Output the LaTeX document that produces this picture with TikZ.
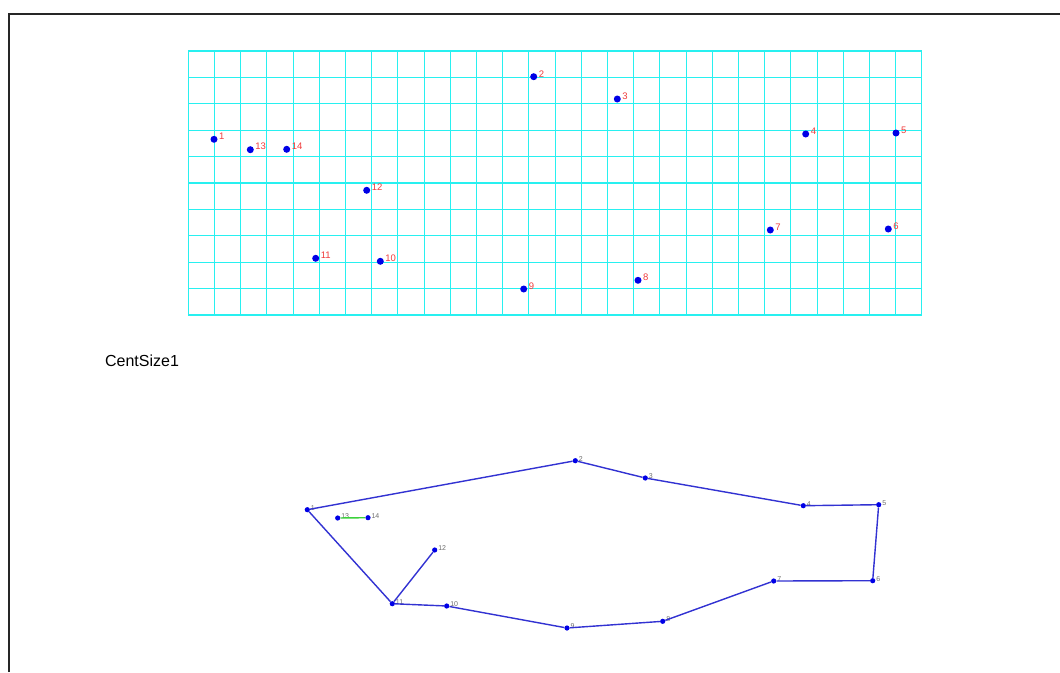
\documentclass[tikz,border=0pt]{standalone}
\usepackage{fontspec}
\setmainfont{Liberation Sans}
\definecolor{gridcyan}{RGB}{40,240,240}
\definecolor{dotblue}{RGB}{0,0,230}
\definecolor{labred}{RGB}{240,60,60}
\definecolor{lineblue}{RGB}{50,50,210}
\definecolor{linegreen}{RGB}{60,210,60}
\definecolor{labgray}{RGB}{110,110,110}
\begin{document}
\begin{tikzpicture}[x=1pt,y=-1pt,
 gridline/.style={draw=gridcyan, line width=1.1pt},
 tdot/.style={circle, fill=dotblue, inner sep=0pt, minimum size=7pt},
 tlab/.style={text=labred, font=\fontsize{9.5}{10}\selectfont, inner sep=1.2pt, yshift=3pt},
 bdot/.style={circle, fill=dotblue, inner sep=0pt, minimum size=5.2pt},
 blab/.style={text=labgray, font=\fontsize{7}{8}\selectfont, inner sep=0.6pt, yshift=2pt},
 edgeline/.style={draw=lineblue, line width=1.4pt},
 greenline/.style={draw=linegreen, line width=1.4pt},
 frameline/.style={draw=black!85, line width=1.2pt},
 title/.style={font=\fontsize{16}{18}\selectfont, text=black}
]
\useasboundingbox (0,0) rectangle (1060,672);
\fill[white] (0,0) rectangle (1060,672);
\draw[frameline] (9,672) -- (9,14) -- (1060,14);

% grid
\foreach \i in {0,...,28} \draw[gridline] ({188.3+26.2*\i},51) -- ({188.3+26.2*\i},315);
\foreach \j in {0,...,10} \draw[gridline] (188.3,{51+26.4*\j}) -- (922,{51+26.4*\j});

% top points
\node[tdot, label={[tlab]east:1}] (t1) at (214,139.3) {};
\node[tdot, label={[tlab]east:2}] (t2) at (533.7,76.7) {};
\node[tdot, label={[tlab]east:3}] (t3) at (617.3,99) {};
\node[tdot, label={[tlab]east:4}] (t4) at (805.7,134) {};
\node[tdot, label={[tlab]east:5}] (t5) at (896,133) {};
\node[tdot, label={[tlab]east:6}] (t6) at (888.3,229) {};
\node[tdot, label={[tlab]east:7}] (t7) at (770.3,230) {};
\node[tdot, label={[tlab]east:8}] (t8) at (638,280.3) {};
\node[tdot, label={[tlab]east:9}] (t9) at (523.7,289) {};
\node[tdot, label={[tlab]east:10}] (t10) at (380.3,261.3) {};
\node[tdot, label={[tlab]east:11}] (t11) at (315.7,258.3) {};
\node[tdot, label={[tlab]east:12}] (t12) at (366.7,190.3) {};
\node[tdot, label={[tlab]east:13}] (t13) at (250.3,149.7) {};
\node[tdot, label={[tlab]east:14}] (t14) at (286.7,149.3) {};

% title
\node[title] (cap) at (142,361) {CentSize1};

% bottom points
\node[bdot, label={[blab]east:1}] (b1) at (307.3,509.7) {};
\node[bdot, label={[blab]east:2}] (b2) at (575.3,460.7) {};
\node[bdot, label={[blab]east:3}] (b3) at (645.3,478) {};
\node[bdot, label={[blab]east:4}] (b4) at (803.3,505.7) {};
\node[bdot, label={[blab]east:5}] (b5) at (878.7,504.7) {};
\node[bdot, label={[blab]east:6}] (b6) at (872.7,580.7) {};
\node[bdot, label={[blab]east:7}] (b7) at (773.7,581) {};
\node[bdot, label={[blab]east:8}] (b8) at (662.7,621.3) {};
\node[bdot, label={[blab]east:9}] (b9) at (567,628) {};
\node[bdot, label={[blab]east:10}] (b10) at (446.7,606) {};
\node[bdot, label={[blab]east:11}] (b11) at (392.3,603.7) {};
\node[bdot, label={[blab]east:12}] (b12) at (434.7,550) {};
\node[bdot, label={[blab]east:13}] (b13) at (337.7,518) {};
\node[bdot, label={[blab]east:14}] (b14) at (368,517.7) {};

\draw[edgeline] (b1) -- (b2) -- (b3) -- (b4) -- (b5) -- (b6) -- (b7) -- (b8) -- (b9) -- (b10) -- (b11) -- (b1);
\draw[edgeline] (b11) -- (b12);
\draw[greenline] (b13) -- (b14);
\end{tikzpicture}
\end{document}
